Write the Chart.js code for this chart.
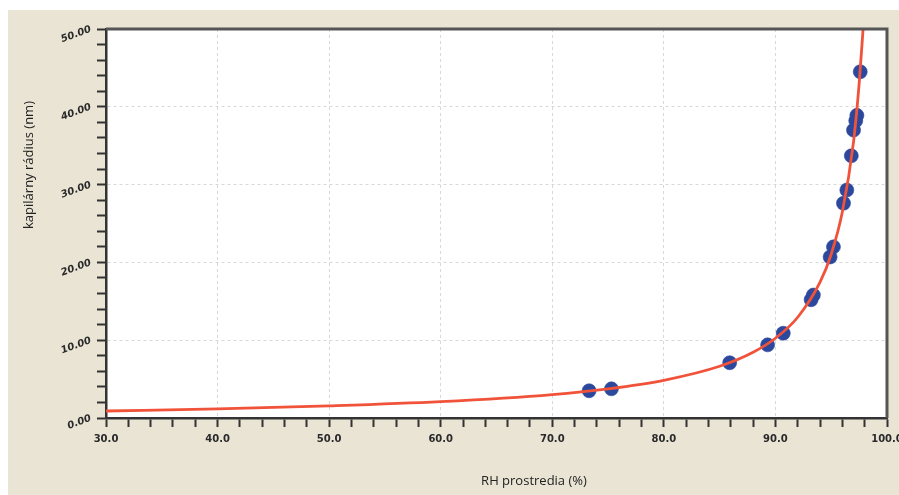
<!DOCTYPE html>
<html>
<head>
<meta charset="utf-8">
<script src="https://cdn.jsdelivr.net/npm/chart.js@4.4.1/dist/chart.umd.min.js"></script>
<style>
  body { margin: 0; background: #fff; }
  #canvas { position: absolute; left: 8px; top: 10px; background: #e9e4d4; }
</style>
</head>
<body>
<canvas id="canvas" width="891" height="485"></canvas>
<script>
// measured points
var rhPoints = [73.3, 75.3, 85.9, 89.3, 90.7, 93.2, 93.4, 94.9, 95.2, 96.1, 96.4, 96.8, 97.0, 97.2, 97.3, 97.6];
var radiusPoints = [3.5, 3.75, 7.1, 9.4, 10.9, 15.2, 15.8, 20.7, 22.0, 27.6, 29.3, 33.7, 37.0, 38.2, 38.9, 44.5];

// red curve
var rhCurve = [30, 40, 50, 60, 70, 75, 80, 85, 88, 90, 92, 94, 95, 96, 97, 97.5, 97.9];
var radiusCurve = [0.9, 1.18, 1.56, 2.1, 3.0, 3.75, 4.85, 6.65, 8.45, 10.25, 12.95, 17.45, 21.05, 26.5, 35.5, 42.9, 50.9];

var xTitle = 'RH prostredia (%)';
var yTitle = 'kapilárny rádius (nm)';

function toXY(xs, ys) {
    return xs.map(function(x, i) { return {x: x, y: ys[i]}; });
}

function gridColor(ctx) {
    if (!ctx.tick) return 'rgba(0,0,0,0)';
    var v = ctx.tick.value;
    if (v % 10 !== 0) return 'rgba(0,0,0,0)';
    return '#d8d8d8';
}

var framePlugin = {
    id: 'frame',
    beforeDraw: function(chart) {
        var a = chart.chartArea, c = chart.ctx;
        c.save();
        c.fillStyle = '#ffffff';
        c.fillRect(a.left, a.top, a.right - a.left, a.bottom - a.top);
        c.restore();
    },
    afterDraw: function(chart) {
        var a = chart.chartArea, c = chart.ctx;
        c.save();
        c.strokeStyle = '#555';
        c.lineWidth = 3;
        c.beginPath();
        c.moveTo(a.left, a.top);
        c.lineTo(a.right, a.top);
        c.lineTo(a.right, a.bottom);
        c.stroke();

        c.fillStyle = '#222';
        c.font = '13px "Open Sans"';
        c.textAlign = 'center';
        c.textBaseline = 'middle';
        c.fillText(xTitle, 526, 471);
        c.translate(21, 155);
        c.rotate(-Math.PI / 2);
        c.fillText(yTitle, 0, 0);
        c.restore();
    }
};

const ctx = document.getElementById('canvas').getContext('2d');
const myChart = new Chart(ctx, {
    type: 'scatter',
    data: {
        datasets: [{
            data: toXY(rhCurve, radiusCurve),
            showLine: true,
            borderColor: '#f0533a',
            borderWidth: 2.8,
            pointRadius: 0,
            cubicInterpolationMode: 'monotone'
        }, {
            data: toXY(rhPoints, radiusPoints),
            backgroundColor: '#2c489d',
            borderColor: 'rgba(44,72,157,0.6)',
            borderWidth: 1,
            pointRadius: 7,
            pointHoverRadius: 7
        }]
    },
    options: {
        responsive: false,
        animation: false,
        events: [],
        layout: { padding: { top: 19, right: 12, left: 0, bottom: 0 } },
        plugins: { legend: { display: false }, tooltip: { enabled: false } },
        scales: {
            x: {
                type: 'linear',
                min: 30,
                max: 100,
                afterFit: function(s) {
                    s.height = 77;
                    s.paddingLeft = 0; s.paddingRight = 0;
                },
                ticks: {
                    stepSize: 2,
                    autoSkip: false,
                    maxRotation: 0,
                    minRotation: 0,
                    padding: 6,
                    color: '#2a2a2a',
                    font: { family: 'DejaVu Sans', size: 10, weight: 'bold' },
                    callback: function(v) { return v % 10 === 0 ? v.toFixed(1) : ''; }
                },
                grid: {
                    color: gridColor,
                    lineWidth: 1,
                    tickColor: '#333',
                    tickWidth: 2,
                    tickLength: 9
                },
                border: { color: '#333', width: 2.5, dash: [3, 3] }
            },
            y: {
                type: 'linear',
                min: 0,
                max: 50,
                afterFit: function(s) {
                    s.width = 98;
                    s.paddingTop = 0; s.paddingBottom = 0;
                },
                ticks: {
                    stepSize: 2,
                    autoSkip: false,
                    minRotation: 20,
                    maxRotation: 20,
                    padding: 6,
                    color: '#2a2a2a',
                    font: { family: 'DejaVu Sans', size: 10, weight: 'bold', style: 'italic' },
                    callback: function(v) { return v % 10 === 0 ? v.toFixed(2) : ''; }
                },
                grid: {
                    color: gridColor,
                    lineWidth: 1,
                    tickColor: '#333',
                    tickWidth: 2,
                    tickLength: 9
                },
                border: { color: '#333', width: 2.5, dash: [3, 3] }
            }
        }
    },
    plugins: [framePlugin]
});
</script>
</body>
</html>
